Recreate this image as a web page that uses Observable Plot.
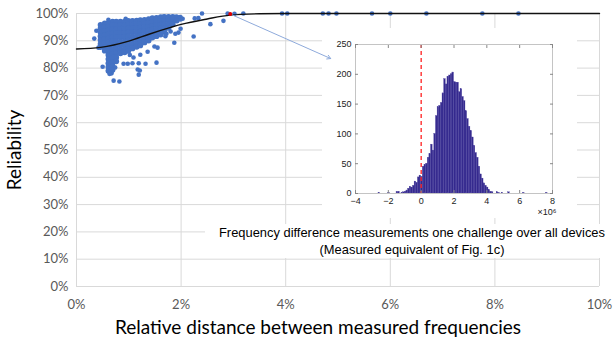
<!DOCTYPE html>
<html>
<head>
<meta charset="utf-8">
<script src="https://cdn.jsdelivr.net/npm/d3@7"></script>
<script src="https://cdn.jsdelivr.net/npm/@observablehq/plot@0.6"></script>
<style>
  html, body { margin: 0; padding: 0; background: white; }
  #wrap { position: relative; width: 614px; height: 341px; overflow: hidden; }
  #main, #inset { position: absolute; left: 0; top: 0; }
  #inset { left: 322px; top: 28px; }
  #caption { position: absolute; left: 205px; top: 224px; width: 414px; text-align: center;
    font-family: "Liberation Sans", Arial, sans-serif; font-size: 12.9px; line-height: 17px;
    color: #000; background: white; white-space: nowrap; }
</style>
</head>
<body>
<div id="wrap">
  <div id="main"></div>
  <div id="inset"></div>
  <div id="caption">Frequency difference measurements one challenge over all devices<br>(Measured equivalent of Fig. 1c)</div>
</div>
<script>
// ---------- main chart data ----------
const xTicks = [0, 2, 4, 6, 8, 10];
const yTicks = [0, 10, 20, 30, 40, 50, 60, 70, 80, 90, 100];
const xLabel = "Relative distance between measured frequencies";
const yLabel = "Reliability";

// dense cluster, read column by column: [x %, [y % ...]]
const coreColumns = [
  [0.46, [95.8, 94.5, 93.1, 91.7, 90.3, 88.9, 87.7]],
  [0.54, [96.4, 95.0, 93.6, 92.1, 90.6, 89.1, 87.6, 86.4]],
  [0.61, [96.6, 95.2, 93.8, 92.3, 90.8, 89.3, 87.8, 86.3, 84.8, 83.3, 81.8, 80.4, 79.0]],
  [0.66, [82.6, 81.2, 79.8, 78.3]],
  [0.69, [97.0, 95.6, 94.2, 92.8, 91.3, 89.8, 88.3, 86.8, 85.3, 83.8, 82.3, 80.8, 79.4]],
  [0.76, [97.0, 95.6, 94.2, 92.8, 91.3, 89.8, 88.3, 86.8, 85.3, 83.9, 82.5]],
  [0.84, [97.0, 95.6, 94.2, 92.8, 91.3, 89.8, 88.3, 86.8, 85.4]],
  [0.92, [97.0, 95.6, 94.2, 92.8, 91.3, 89.8, 88.3, 86.8, 85.8]],
  [0.99, [97.3, 95.9, 94.5, 93.1, 91.6, 90.1, 88.6, 87.1, 86.3]],
  [1.07, [97.3, 95.9, 94.5, 93.1, 91.6, 90.1, 88.6, 87.2]],
  [1.15, [97.4, 96.0, 94.6, 93.1, 91.6, 90.1, 88.7, 87.8]],
  [1.22, [97.6, 96.2, 94.8, 93.4, 92.0, 90.5, 89.1, 88.3]],
  [1.30, [97.7, 96.3, 94.9, 93.5, 92.0, 90.6, 89.4]],
  [1.38, [97.9, 96.5, 95.1, 93.7, 92.3, 90.9, 90.1]],
  [1.45, [98.3, 96.9, 95.5, 94.1, 92.7, 91.2]],
  [1.53, [98.4, 97.0, 95.6, 94.2, 92.8, 91.7]],
  [1.61, [98.7, 97.3, 95.9, 94.5, 93.2, 92.3]],
  [1.68, [98.8, 97.4, 96.0, 94.6, 93.3]],
  [1.76, [98.8, 97.4, 96.0, 94.7]],
  [1.84, [98.8, 97.4, 96.1]],
  [1.91, [98.7, 97.4]],
  [1.98, [98.5]]
];

// scattered points: x %, y %
const outlierX = [0.61, 0.94, 0.38, 0.34, 0.42, 0.50, 0.71, 0.82, 0.90, 0.98, 1.07, 1.19, 1.32, 1.53, 1.17, 1.21, 1.19, 0.63,
  1.36, 1.55, 1.49, 1.22, 1.09, 1.72, 1.87, 1.84, 1.93, 2.03, 1.99, 1.95, 1.89, 1.66, 2.24, 1.99, 2.26, 2.33, 2.40, 2.56,
  2.81, 2.89, 3.02, 3.19, 3.93, 4.03, 4.71, 4.82, 4.97, 5.65, 6.00, 6.69, 7.76, 8.45, 1.80, 1.70, 0.74, 1.02];
const outlierY = [97.7, 98.1, 93.7, 90.8, 87.5, 80.5, 75.4, 75.1, 81.6, 81.6, 81.8, 81.8, 81.6, 82.0, 79.5, 79.1, 77.6, 77.9,
  86.0, 87.5, 87.9, 84.9, 83.9, 92.6, 89.3, 98.4, 97.3, 98.1, 94.4, 93.0, 92.6, 98.8, 91.6, 97.8, 98.2, 98.3, 100, 96.1,
  97.3, 100, 99.9, 100, 100, 100, 100, 100, 100, 100, 100, 100, 100, 100, 93.4, 91.7, 80.2, 84.8];

const highlightX = [2.94];
const highlightY = [99.8];

// fitted curve
const fitX = [0, 0.46, 1.0, 1.4, 1.8, 2.0, 2.5, 2.94, 3.5, 4.0, 6.0, 10.0];
const fitY = [87.0, 87.6, 89.9, 92.5, 94.9, 96.0, 98.0, 99.4, 99.9, 100, 100, 100];

// arrow from highlighted point to inset
const arrowFrom = [2.94, 99.8];
const arrowTo = [4.86, 83.5];

// ---------- inset histogram data (x in units of 10^6) ----------
const histStart = [-2.6, -2.0, -1.5, -1.4, -1.2, -1.1, -1.0, -0.9, -0.8, -0.7, -0.6, -0.5, -0.4, -0.3, -0.2, -0.1,
  0.0, 0.1, 0.2, 0.3, 0.4, 0.5, 0.6, 0.7, 0.8, 0.9, 1.0, 1.1, 1.2, 1.3, 1.4, 1.5, 1.6, 1.7, 1.8, 1.9,
  2.0, 2.1, 2.2, 2.3, 2.4, 2.5, 2.6, 2.7, 2.8, 2.9, 3.0, 3.1, 3.2, 3.3, 3.4, 3.5, 3.6, 3.7, 3.8, 3.9,
  4.0, 4.1, 4.2, 4.3, 4.6, 4.7, 4.9, 5.3, 6.2, 7.6];
const histCount = [1, 1, 2, 3, 1, 2, 3, 5, 8, 11, 10, 13, 20, 18, 27, 30,
  28, 45, 48, 50, 60, 66, 82, 72, 100, 130, 145, 147, 152, 168, 192, 183, 196, 198, 200, 203,
  187, 186, 186, 170, 175, 162, 155, 138, 125, 112, 105, 94, 80, 68, 60, 45, 32, 25, 17, 13,
  10, 6, 3, 2, 2, 1, 1, 2, 1, 1];
const binWidth = 0.1;
const histXTicks = [-4, -2, 0, 2, 4, 6, 8];
const histYTicks = [0, 50, 100, 150, 200, 250];
const histExponent = "\u00d710\u2076";

// ---------- build tables ----------
const core = coreColumns.flatMap(([x, ys]) => ys.map(y => ({x, y})));
const outliers = outlierX.map((x, i) => ({x, y: outlierY[i]}));
const highlight = highlightX.map((x, i) => ({x, y: highlightY[i]}));
const fit = fitX.map((x, i) => ({x, y: fitY[i]}));
const arrows = [{x1: arrowFrom[0], y1: arrowFrom[1], x2: arrowTo[0], y2: arrowTo[1]}];
const hist = histStart.map((s, i) => ({x1: s, x2: s + binWidth, n: histCount[i]}));

const blue = "#4472c4";
const grid = "#d9d9d9";

// white panel behind the inset (hides the grid there)
function insetPanel() {
  const r = document.createElementNS("http://www.w3.org/2000/svg", "rect");
  r.setAttribute("x", 322); r.setAttribute("y", 28);
  r.setAttribute("width", 255); r.setAttribute("height", 190);
  r.setAttribute("fill", "white");
  return r;
}

const main = Plot.plot({
  width: 614, height: 341,
  marginLeft: 76, marginRight: 15, marginTop: 13, marginBottom: 55,
  style: {fontFamily: "Lato, 'Open Sans', sans-serif", background: "white", overflow: "visible"},
  x: {domain: [0, 10], label: null},
  y: {domain: [0, 100], label: null},
  marks: [
    Plot.gridX(xTicks, {stroke: grid, strokeOpacity: 1, strokeWidth: 1}),
    Plot.gridY(yTicks, {stroke: grid, strokeOpacity: 1, strokeWidth: 1}),
    insetPanel,
    Plot.axisX(xTicks, {tickSize: 0, tickPadding: 13, fontSize: 13, fill: "#595959", tickFormat: d => d + "%", label: null}),
    Plot.axisY(yTicks, {tickSize: 0, tickPadding: 8, fontSize: 13, fill: "#595959", tickFormat: d => d + "%", label: null}),
    Plot.dot(core, {x: "x", y: "y", r: 2.9, fill: blue, stroke: null}),
    Plot.dot(outliers, {x: "x", y: "y", r: 2.3, fill: blue, stroke: null}),
    Plot.line(fit, {x: "x", y: "y", curve: "monotone-x", stroke: "#111", strokeWidth: 1.4}),
    Plot.arrow(arrows, {x1: "x1", y1: "y1", x2: "x2", y2: "y2", stroke: "#8eaadb", strokeWidth: 1, headLength: 6}),
    Plot.dot(highlight, {x: "x", y: "y", r: 2, fill: "#e00000", stroke: null}),
    Plot.text([yLabel], {frameAnchor: "left", textAnchor: "middle", lineAnchor: "middle", dx: -62, rotate: -90, fontSize: 19, fill: "#000"}),
    Plot.text([xLabel], {frameAnchor: "bottom", textAnchor: "middle", lineAnchor: "middle", dy: 41, dx: -20, fontSize: 19, fill: "#000"})
  ]
});
document.getElementById("main").appendChild(main);

const inset = Plot.plot({
  width: 255, height: 190,
  marginLeft: 33, marginRight: 25, marginTop: 16, marginBottom: 25,
  style: {fontFamily: "'Liberation Sans', Arial, sans-serif", fontSize: "9px", background: "transparent", color: "#222", overflow: "visible"},
  x: {domain: [-4, 8], label: null},
  y: {domain: [0, 250], label: null},
  marks: [
    Plot.rectY(hist, {x1: "x1", x2: "x2", y: "n", fill: "#352a8e", stroke: "#4a3f9e", strokeWidth: 0.3}),
    Plot.ruleX([0], {stroke: "#ff2020", strokeWidth: 1.3, strokeDasharray: "4,3"}),
    Plot.frame({stroke: "#c4c4c4"}),
    Plot.axisX(histXTicks, {anchor: "bottom", tickSize: -3, tickPadding: 7, stroke: "#888", fill: "#222", label: null}),
    Plot.axisX(histXTicks, {anchor: "top", tickSize: -3, tickFormat: () => "", stroke: "#888", label: null}),
    Plot.axisY(histYTicks, {anchor: "left", tickSize: -3, tickPadding: 7, stroke: "#888", fill: "#222", label: null}),
    Plot.axisY(histYTicks, {anchor: "right", tickSize: -3, tickFormat: () => "", stroke: "#888", label: null}),
    Plot.text([histExponent], {frameAnchor: "bottom-right", dy: 21, dx: 4, textAnchor: "end", fontSize: 9, fill: "#222"})
  ]
});
document.getElementById("inset").appendChild(inset);
</script>
</body>
</html>
